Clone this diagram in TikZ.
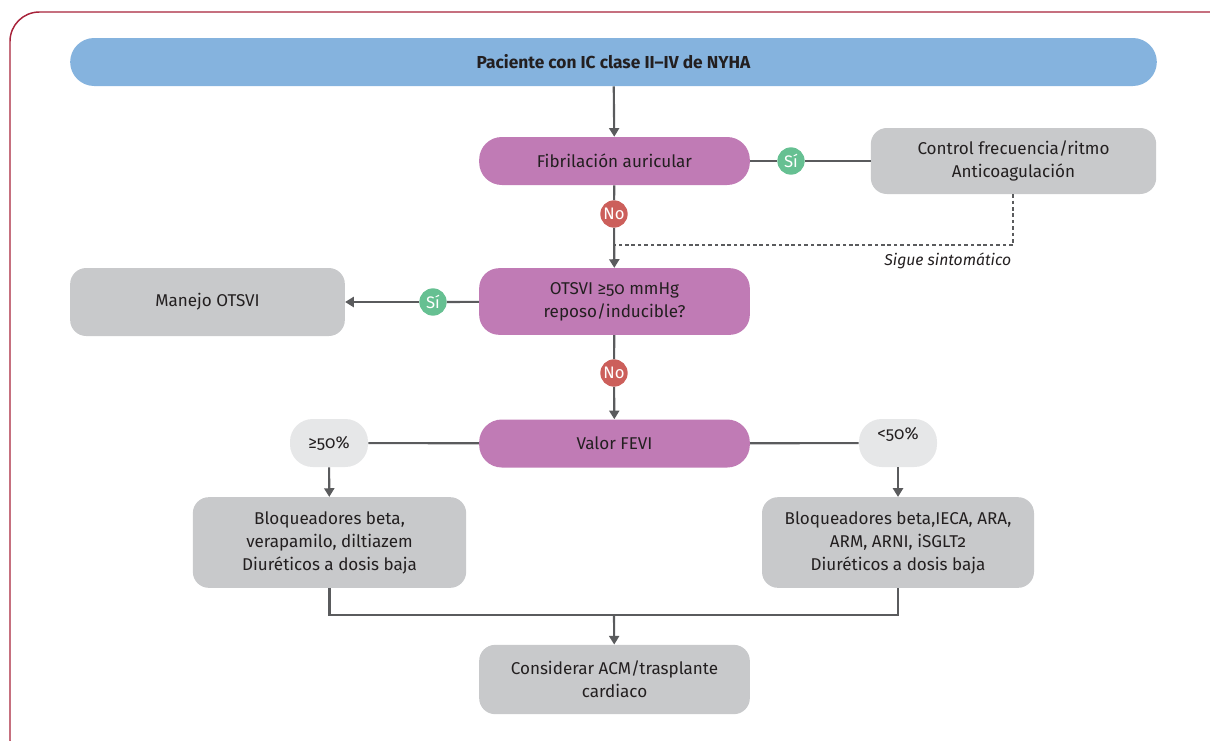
\documentclass[tikz,border=0pt]{standalone}
\usepackage{fontspec}
\setmainfont{Fira Sans}[Numbers=OldStyle]
\usetikzlibrary{arrows.meta}
\definecolor{framered}{HTML}{A8233B}
\definecolor{barblue}{HTML}{85B3DE}
\definecolor{askpurple}{HTML}{C07BB5}
\definecolor{boxgray}{HTML}{C8C9CB}
\definecolor{pillgray}{HTML}{E6E7E8}
\definecolor{yesgreen}{HTML}{66C092}
\definecolor{nored}{HTML}{CC5F5B}
\definecolor{linegray}{HTML}{5A5B5D}
\definecolor{inkdark}{HTML}{231F20}

\tikzset{
  conn/.style = {draw=linegray, line width=1.6pt},
  arr/.style = {conn, -{Triangle[width=7.5pt,length=6.5pt]}},
  topbar/.style = {fill=barblue, rounded corners=18pt, minimum width=815pt,
    minimum height=36pt, text=inkdark, font=\fontsize{13}{15}\selectfont\bfseries},
  askbox/.style = {fill=askpurple, rounded corners=17pt, minimum width=203pt,
    minimum height=36pt, align=center, text=inkdark,
    font=\fontsize{12.8}{17}\selectfont},
  actbox/.style = {fill=boxgray, rounded corners=12pt, align=center, text=inkdark,
    font=\fontsize{12.8}{17.2}\selectfont},
  pillbox/.style = {fill=pillgray, rounded corners=17pt, minimum width=58.5pt,
    minimum height=36pt, inner xsep=2pt, text=inkdark,
    font=\fontsize{12.8}{15}\selectfont},
  yesdot/.style = {circle, fill=yesgreen, minimum size=20.5pt, inner sep=0pt,
    text=white, font=\fontsize{12.5}{13}\selectfont\addfontfeature{Numbers=Lining}},
  nodot/.style = {yesdot, fill=nored},
}

\begin{document}
\begin{tikzpicture}[x=0.75pt, y=-0.75pt]
  \useasboundingbox (0,0) rectangle (1210,740);
  \begin{scope}
    \clip (0,0) rectangle (1210,740);
    \draw[framered, line width=1.1pt, rounded corners=22pt] (10,12) rectangle (1240,770);
  \end{scope}

  % boxes
  \node[topbar] (nyha) at (613.5,62) {Paciente con IC clase II–IV de NYHA};
  \node[askbox] (fa) at (614.5,161) {Fibrilación auricular};
  \node[actbox, minimum width=214pt, minimum height=49.5pt] (ritmo) at (1013.5,161)
    {Control frecuencia/ritmo\\Anticoagulación};
  \node[askbox, minimum height=50pt, rounded corners=15pt] (otsvi) at (614.5,301.5)
    {OTSVI ≥50 mmHg\\reposo/inducible?};
  \node[actbox, minimum width=206pt, minimum height=51pt] (manejo) at (207.5,302)
    {Manejo OTSVI};
  \node[askbox] (fevi) at (614.5,443.5) {Valor FEVI};
  \node[pillbox] (alta) at (329,443) {≥50\%};
  \node[pillbox, text depth=14pt] (baja) at (898,443) {<50\%};
  \node[actbox, minimum width=205pt, minimum height=68pt] (trconserv) at (329.5,542.5)
    {Bloqueadores beta,\\verapamilo, diltiazem\\Diuréticos a dosis baja};
  \node[actbox, minimum width=204pt, minimum height=68pt] (trreduc) at (898,542.5)
    {Bloqueadores beta,IECA, ARA,\\ARM, ARNI, iSGLT2\\Diuréticos a dosis baja};
  \node[actbox, minimum width=203pt, minimum height=52pt] (acm) at (614.5,679.5)
    {Considerar ACM/trasplante\\cardiaco};

  % decision dots
  \node[yesdot] (si1) at (791,161) {Sí};
  \node[nodot] (no1) at (614,214) {No};
  \node[yesdot] (si2) at (433,302) {Sí};
  \node[nodot] (no2) at (614,373) {No};
  \coordinate (vuelta) at (1013,245);
  \coordinate (entra) at (614,245);
  \coordinate (union) at (614,615);

  % connectors
  \draw[arr] (nyha) -- (fa);
  \draw[conn] (fa) -- (si1);
  \draw[conn] (si1) -- (ritmo);
  \draw[conn] (fa) -- (no1);
  \draw[arr] (no1) -- (otsvi);
  \draw[linegray, line width=1.5pt, dash pattern=on 2.6pt off 2.2pt]
    (ritmo.south -| vuelta) -- (vuelta) -- (entra);
  \node[anchor=east, text=inkdark, font=\fontsize{11.8}{14}\selectfont\itshape] (sigue)
    at (1016,261) {Sigue sintomático};
  \draw[conn] (otsvi) -- (si2);
  \draw[arr] (si2) -- (manejo);
  \draw[conn] (otsvi) -- (no2);
  \draw[arr] (no2) -- (fevi);
  \draw[conn] (fevi) -- (alta);
  \draw[conn] (fevi) -- (baja);
  \draw[arr] (alta) -- (trconserv);
  \draw[arr] (baja) -- (trreduc);
  \draw[conn] (trconserv) |- (union);
  \draw[conn] (trreduc) |- (union);
  \draw[arr] (union) -- (acm);
\end{tikzpicture}
\end{document}
